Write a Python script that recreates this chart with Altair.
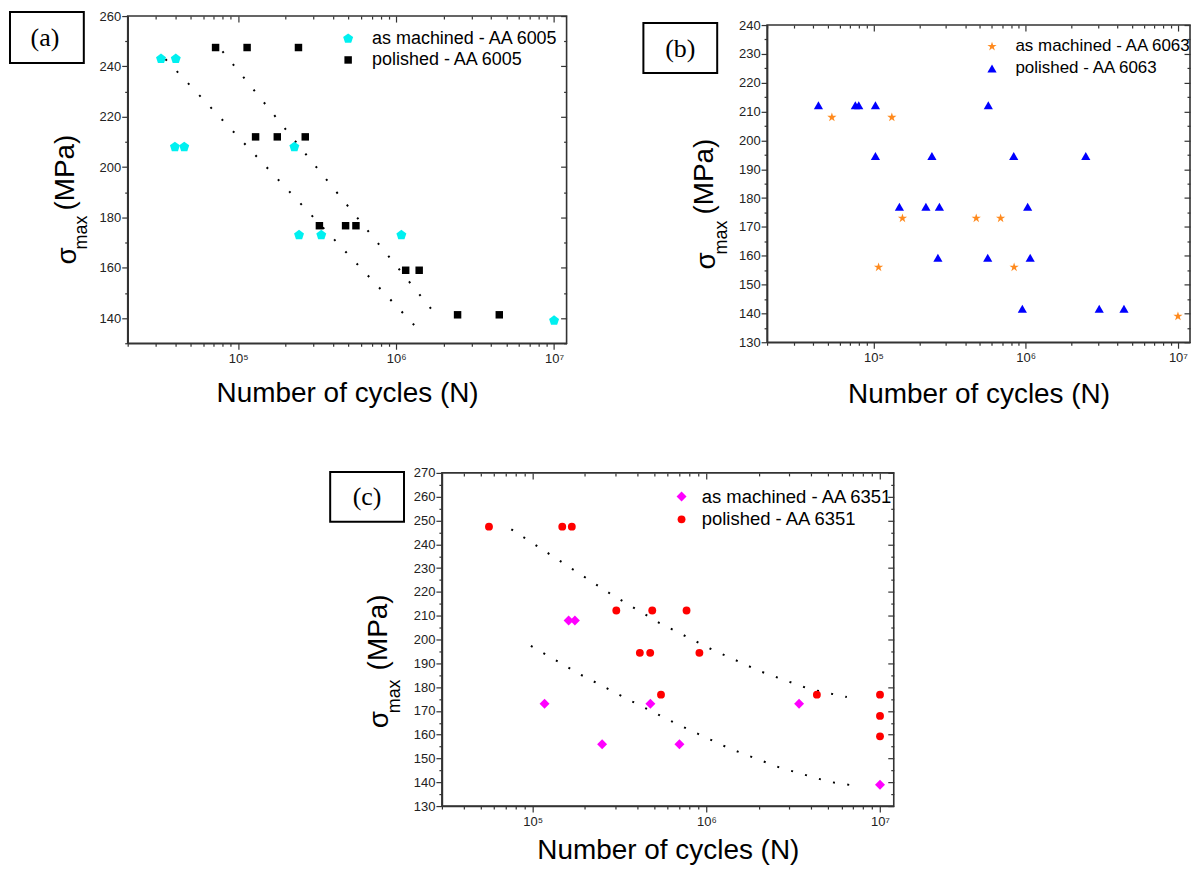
import altair as alt
import pandas as pd

# ---------------- data ----------------
# (a) AA 6005
a_mach_N = [3.25e4, 4.03e4, 3.98e4, 4.56e4, 2.27e5, 2.43e5, 3.36e5, 1.08e6, 1.0e7]
a_mach_S = [243, 243, 208, 208, 208, 173, 173, 173, 139]
a_pol_N = [7.2e4, 1.14e5, 2.41e5, 1.29e5, 1.77e5, 2.66e5, 3.27e5, 4.79e5, 5.57e5,
           1.15e6, 1.40e6, 2.45e6, 4.5e6]
a_pol_S = [247.5, 247.5, 247.5, 212, 212, 212, 176.7, 176.7, 176.7, 159, 159, 141.3, 141.3]
a_fit1_N = [3.47e4, 1.33e6]
a_fit1_S = [242.9, 136.6]
a_fit2_N = [7.96e4, 1.87e6]
a_fit2_S = [246.0, 139.8]

# (b) AA 6063
b_mach_N = [5.33e4, 1.32e5, 1.08e5, 1.55e5, 4.73e5, 6.84e5, 8.39e5, 1.0e7]
b_mach_S = [208, 208, 156, 173, 173, 173, 156, 139]
b_pol_N = [4.35e4, 7.6e4, 8.0e4, 1.03e5, 5.68e5,
           1.03e5, 2.42e5, 8.34e5, 2.48e6,
           1.48e5, 2.21e5, 2.71e5, 1.03e6,
           2.65e5, 5.63e5, 1.07e6,
           9.5e5, 3.04e6, 4.42e6]
b_pol_S = [212.2, 212.2, 212.2, 212.2, 212.2,
           194.6, 194.6, 194.6, 194.6,
           177, 177, 177, 177,
           159.3, 159.3, 159.3,
           141.6, 141.6, 141.6]

# (c) AA 6351
c_mach_N = [1.61e5, 1.75e5, 1.17e5, 4.76e5, 3.42e6, 2.51e5, 7.0e5, 1.0e7]
c_mach_S = [208, 208, 173, 173, 173, 156, 156, 139]
c_pol_N = [5.6e4, 1.48e5, 1.68e5, 3.03e5, 4.88e5, 7.69e5, 4.14e5, 4.75e5, 9.12e5,
           5.48e5, 4.33e6, 1.0e7, 1.0e7, 1.0e7]
c_pol_S = [247.4, 247.4, 247.4, 212.2, 212.2, 212.2, 194.4, 194.4, 194.4,
           176.8, 176.8, 176.8, 167.9, 159.3]
c_fit1_N = [7.53e4, 1.45e5, 2.80e5, 5.38e5, 1.05e6, 2.03e6, 3.92e6, 6.44e6]
c_fit1_S = [246.3, 232.8, 219.2, 206.9, 196.2, 186.7, 179.2, 175.8]
c_fit2_N = [9.76e4, 1.88e5, 3.66e5, 7.03e5, 1.36e6, 2.64e6, 5.10e6, 7.08e6]
c_fit2_S = [197.3, 185.3, 174.3, 163.9, 154.2, 146.2, 140.2, 138.6]

x_major = [1e5, 1e6, 1e7]
mantissas = [2, 3, 4, 5, 6, 7, 8, 9]
decades = [1e4, 1e5, 1e6]

FONT = "Liberation Sans"
PENTAGON = "M0,-1L0.951,-0.309L0.588,0.809L-0.588,0.809L-0.951,-0.309Z"
STAR = ("M0,-1L0.2245,-0.309L0.951,-0.309L0.363,0.118L0.588,0.809L0,0.382"
        "L-0.588,0.809L-0.363,0.118L-0.951,-0.309L-0.2245,-0.309Z")
AXC = "#333333"
one = pd.DataFrame({"k": [0]})


def pts_frame(l1, n1, s1, l2, n2, s2):
    return pd.DataFrame({
        "N": list(n1) + list(n2),
        "S": list(s1) + list(s2),
        "series": [l1] * len(n1) + [l2] * len(n2),
    })


def fit_frame(fits):
    rows = []
    for i, (nn, ss) in enumerate(fits):
        for n, s in zip(nn, ss):
            rows.append({"N": n, "S": s, "fit": i})
    return pd.DataFrame(rows, columns=["N", "S", "fit"])


def panel(cfg):
    xdom = cfg["xdom"]
    xs = alt.Scale(type="log", domain=xdom, nice=False)
    ys = alt.Scale(domain=cfg["ydom"], nice=False, zero=False)
    x_minor = [m * d for d in decades for m in mantissas if xdom[0] <= m * d <= xdom[1]]
    pts = cfg["pts"]

    leg = alt.Legend(title=None, orient="none", legendX=cfg["legX"], legendY=cfg["legY"],
                     labelFont=FONT, labelFontSize=cfg["legFs"], labelColor="black", padding=0,
                     rowPadding=cfg["rowPad"], symbolOffset=0, labelOffset=cfg["labOff"],
                     symbolStrokeWidth=0, labelLimit=400)

    xlab = "datum.value >= 9e6 ? '10\u2077' : datum.value >= 9e5 ? '10\u2076' : '10\u2075'"

    points = alt.Chart(pts).mark_point(filled=True, opacity=1, strokeWidth=0).encode(
        x=alt.X("N:Q", scale=xs, axis=alt.Axis(
            orient="bottom", values=x_major, labelExpr=xlab, tickSize=6, labelPadding=3,
            labelFontSize=13, title="Number of cycles (N)", titleFontSize=28,
            titleFont=FONT, titleFontWeight="normal", titleColor="black",
            titlePadding=cfg["xtPad"], labelFlush=False, labelOverlap=False)),
        y=alt.Y("S:Q", scale=ys, axis=alt.Axis(
            orient="left", values=cfg["ymaj"], tickSize=6, labelPadding=1,
            labelFontSize=13, title=None, labelFlush=False, labelOverlap=False)),
        color=alt.Color("series:N", scale=alt.Scale(domain=cfg["labels"], range=cfg["colors"]), legend=leg),
        shape=alt.Shape("series:N", scale=alt.Scale(domain=cfg["labels"], range=cfg["shapes"]), legend=leg),
        size=alt.Size("series:N", scale=alt.Scale(domain=cfg["labels"], range=cfg["sizes"]), legend=leg),
    )

    layers = []
    if len(cfg["fits"]):
        layers.append(alt.Chart(cfg["fits"]).mark_line(color="black", strokeWidth=2,
                                                       strokeDash=cfg["dash"]).encode(
            x=alt.X("N:Q", scale=xs, axis=None),
            y=alt.Y("S:Q", scale=ys, axis=None),
            detail="fit:N",
        ))
    layers.append(points)

    layers.append(alt.Chart(pts).mark_point(opacity=0).encode(
        x=alt.X("N:Q", scale=xs, axis=alt.Axis(orient="bottom", values=x_minor, tickSize=3,
                                                labels=False, domain=False, title=None)),
        y=alt.Y("S:Q", scale=ys, axis=alt.Axis(orient="left", values=cfg["ymin"], tickSize=3,
                                                labels=False, domain=False, title=None)),
    ))
    layers.append(alt.Chart(pts).mark_point(opacity=0).encode(
        x=alt.X("N:Q", scale=xs, axis=alt.Axis(orient="top", values=x_major, tickSize=6, offset=-6,
                                                labels=False, domain=False, title=None)),
        y=alt.Y("S:Q", scale=ys, axis=alt.Axis(orient="right", values=cfg["ymaj"], tickSize=6, offset=-6,
                                                labels=False, domain=False, title=None)),
    ))
    layers.append(alt.Chart(pts).mark_point(opacity=0).encode(
        x=alt.X("N:Q", scale=xs, axis=alt.Axis(orient="top", values=x_minor, tickSize=3, offset=-3,
                                                labels=False, domain=False, title=None)),
        y=alt.Y("S:Q", scale=ys, axis=alt.Axis(orient="right", values=cfg["ymin"], tickSize=3, offset=-3,
                                                labels=False, domain=False, title=None)),
    ))

    bx = cfg["box"]
    layers.append(alt.Chart(one).mark_rect(fill="white", stroke="black", strokeWidth=2).encode(
        x=alt.value(bx[0]), x2=alt.value(bx[1]), y=alt.value(bx[2]), y2=alt.value(bx[3])))
    layers.append(alt.Chart(one).mark_text(text=cfg["tag"], font="Liberation Serif", fontSize=26,
                                           color="black", align="center", baseline="middle").encode(
        x=alt.value(cfg["tagpos"][0]), y=alt.value(cfg["tagpos"][1])))

    def rtext(txt, pos, size):
        return alt.Chart(one).mark_text(text=txt, angle=270, align="left", baseline="alphabetic",
                                        font=FONT, fontSize=size, color="black").encode(
            x=alt.value(pos[0]), y=alt.value(pos[1]))

    layers.append(rtext("\u03c3", cfg["sig"], 28))
    layers.append(rtext("max", cfg["max"], 18))
    layers.append(rtext("(MPa)", cfg["mpa"], 28))

    return alt.layer(*layers).resolve_axis(x="independent", y="independent").properties(
        width=cfg["w"], height=cfg["h"])


def spacer(w, h):
    return alt.Chart(one).mark_rule(strokeOpacity=0).encode(
        x=alt.value(0), y=alt.value(0), y2=alt.value(0)).properties(
        width=w, height=h, view=alt.ViewBackground(stroke=None))


cfg_a = dict(
    pts=pts_frame("as machined - AA 6005", a_mach_N, a_mach_S, "polished - AA 6005", a_pol_N, a_pol_S),
    fits=fit_frame([(a_fit1_N, a_fit1_S), (a_fit2_N, a_fit2_S)]),
    labels=["as machined - AA 6005", "polished - AA 6005"],
    colors=["#00F0F0", "#000000"], shapes=[PENTAGON, "square"], sizes=[110, 56],
    xdom=[2e4, 1.2e7], ydom=[130, 260],
    ymaj=[140, 160, 180, 200, 220, 240, 260], ymin=[130, 150, 170, 190, 210, 230, 250],
    w=440, h=328, dash=[2, 14.5], xtPad=14,
    legX=212, legY=13.6, rowPad=3.4, labOff=15, legFs=18,
    box=[-118, -44, -4, 47], tag="(a)", tagpos=[-83, 22],
    sig=[-52, 249], max=[-41, 234], mpa=[-54, 195],
)
cfg_b = dict(
    pts=pts_frame("as machined - AA 6063", b_mach_N, b_mach_S, "polished - AA 6063", b_pol_N, b_pol_S),
    fits=fit_frame([]),
    labels=["as machined - AA 6063", "polished - AA 6063"],
    colors=["#FF8A1E", "#0000FF"], shapes=[STAR, "triangle-up"], sizes=[95, 85],
    xdom=[2e4, 1.2e7], ydom=[130, 240],
    ymaj=list(range(130, 241, 10)), ymin=list(range(135, 240, 10)),
    w=424, h=318, dash=[2, 14], xtPad=16,
    legX=217, legY=13, rowPad=4, labOff=15, legFs=17,
    box=[-124, -50, -2, 48], tag="(b)", tagpos=[-87, 24],
    sig=[-52, 245], max=[-40, 230], mpa=[-54, 190],
)
cfg_c = dict(
    pts=pts_frame("as machined - AA 6351", c_mach_N, c_mach_S, "\u00a0polished - AA 6351", c_pol_N, c_pol_S),
    fits=fit_frame([(c_fit1_N, c_fit1_S), (c_fit2_N, c_fit2_S)]),
    labels=["as machined - AA 6351", "\u00a0polished - AA 6351"],
    colors=["#FF00FF", "#FF0000"], shapes=["diamond", "circle"], sizes=[100, 62],
    xdom=[3e4, 1.2e7], ydom=[130, 270],
    ymaj=list(range(130, 271, 10)), ymin=list(range(135, 270, 10)),
    w=453, h=334, dash=[2, 12.5], xtPad=9,
    legX=231, legY=14.5, rowPad=3.8, labOff=11, legFs=18.5,
    box=[-112, -38, -1, 49], tag="(c)", tagpos=[-75, 24],
    sig=[-54, 256], max=[-42, 241], mpa=[-55, 198],
)

pa = panel(cfg_a)
pb = panel(cfg_b)
pc = panel(cfg_c)

ind = dict(color="independent", shape="independent", size="independent")


def cc(*charts, columns, spacing):
    return alt.concat(*charts, columns=columns, spacing=spacing, bounds="full").resolve_scale(
        **ind).resolve_legend(**ind)


gb = cc(spacer(1, 1), pb, columns=1, spacing=1)
top = cc(pa, gb, columns=2, spacing=73)
bottom = cc(spacer(201, 1), pc, columns=2, spacing=0)
chart = cc(top, bottom, columns=1, spacing=57).properties(
    padding=0
).configure_view(stroke=AXC, strokeWidth=1.6).configure_axis(
    domainColor=AXC, domainWidth=1.6, tickColor=AXC, tickWidth=1.2, labelColor="#222222",
    labelFont=FONT, grid=False
)

chart.save("out.html", embed_options={"renderer": "svg", "actions": False})
